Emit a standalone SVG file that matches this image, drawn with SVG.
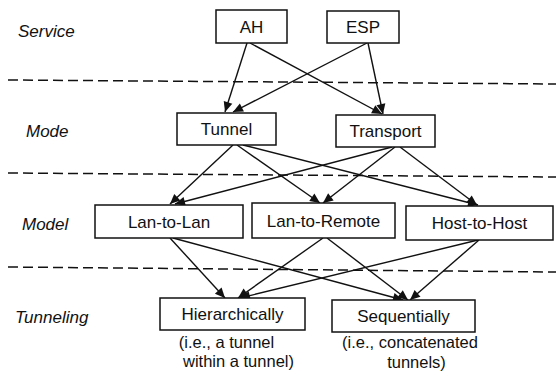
<svg xmlns="http://www.w3.org/2000/svg" width="556" height="378" viewBox="0 0 556 378">
<style>
  .bg{fill:#fff}
  .box{fill:#fff;stroke:#111;stroke-width:1.5}
  .nt{font-family:"Liberation Sans",Arial,sans-serif;font-size:17px;fill:#111;text-anchor:middle}
  .lab{font-family:"Liberation Sans",Arial,sans-serif;font-size:17px;font-style:italic;fill:#111}
  .ann{font-family:"Liberation Sans",Arial,sans-serif;font-size:16.5px;fill:#111;text-anchor:middle}
  .dash{stroke:#111;stroke-width:1.5;stroke-dasharray:10 5;fill:none}
  .edge{stroke:#111;stroke-width:1.4;fill:none;marker-end:url(#ah)}
</style>
<defs>
  <marker id="ah" viewBox="0 0 10 10" refX="10" refY="5" markerWidth="12" markerHeight="10" markerUnits="userSpaceOnUse" orient="auto">
    <path d="M0,0.5 L10,5 L0,9.5 z" fill="#111"/>
  </marker>
</defs>
<rect class="bg" x="0" y="0" width="556" height="378"/>

<g id="layers">
  <text class="lab" x="18" y="37">Service</text>
  <text class="lab" x="26" y="137">Mode</text>
  <text class="lab" x="22" y="230">Model</text>
  <text class="lab" x="15" y="323">Tunneling</text>
  <line class="dash" x1="8" y1="80" x2="556" y2="84"/>
  <line class="dash" x1="8" y1="173" x2="556" y2="177"/>
  <line class="dash" x1="8" y1="267" x2="556" y2="272"/>
</g>

<g id="connectors">
  <line class="edge" x1="247" y1="43" x2="225" y2="112"/>
  <line class="edge" x1="250" y1="43" x2="382" y2="114"/>
  <line class="edge" x1="367" y1="43" x2="233" y2="112"/>
  <line class="edge" x1="368" y1="43" x2="383" y2="114"/>
  <line class="edge" x1="233" y1="145" x2="170" y2="204"/>
  <line class="edge" x1="237" y1="145" x2="320" y2="203"/>
  <line class="edge" x1="243" y1="145" x2="478" y2="205"/>
  <line class="edge" x1="392" y1="147" x2="175" y2="204"/>
  <line class="edge" x1="395" y1="147" x2="323" y2="203"/>
  <line class="edge" x1="400" y1="147" x2="477" y2="205"/>
  <line class="edge" x1="170" y1="238" x2="225" y2="298"/>
  <line class="edge" x1="173" y1="238" x2="403" y2="300"/>
  <line class="edge" x1="323" y1="238" x2="238" y2="298"/>
  <line class="edge" x1="327" y1="238" x2="408" y2="300"/>
  <line class="edge" x1="478" y1="240" x2="240" y2="298"/>
  <line class="edge" x1="479" y1="240" x2="410" y2="300"/>
</g>

<g id="node-ah"><rect class="box" x="216" y="10" width="71" height="33"/><text class="nt" x="251.5" y="32.5">AH</text></g>
<g id="node-esp"><rect class="box" x="327" y="11" width="72" height="32"/><text class="nt" x="363" y="33">ESP</text></g>
<g id="node-tunnel"><rect class="box" x="177" y="113" width="99" height="32"/><text class="nt" x="226.5" y="135">Tunnel</text></g>
<g id="node-transport"><rect class="box" x="336" y="115" width="99" height="32"/><text class="nt" x="385.5" y="137">Transport</text></g>
<g id="node-lan-to-lan"><rect class="box" x="95" y="205" width="148" height="33"/><text class="nt" x="169" y="227.5">Lan-to-Lan</text></g>
<g id="node-lan-to-remote"><rect class="box" x="252" y="203" width="143" height="35"/><text class="nt" x="323.5" y="226.5">Lan-to-Remote</text></g>
<g id="node-host-to-host"><rect class="box" x="406" y="206" width="147" height="34"/><text class="nt" x="479.5" y="229">Host-to-Host</text></g>
<g id="node-hierarchically"><rect class="box" x="160" y="298" width="145" height="32"/><text class="nt" x="232.5" y="320">Hierarchically</text>
  <text class="ann" x="226.5" y="348">(i.e., a tunnel</text>
  <text class="ann" x="238.5" y="367">within a tunnel)</text></g>
<g id="node-sequentially"><rect class="box" x="332" y="300" width="143" height="32"/><text class="nt" x="403.5" y="322">Sequentially</text>
  <text class="ann" x="410" y="348">(i.e., concatenated</text>
  <text class="ann" x="416.5" y="368">tunnels)</text></g>
</svg>
